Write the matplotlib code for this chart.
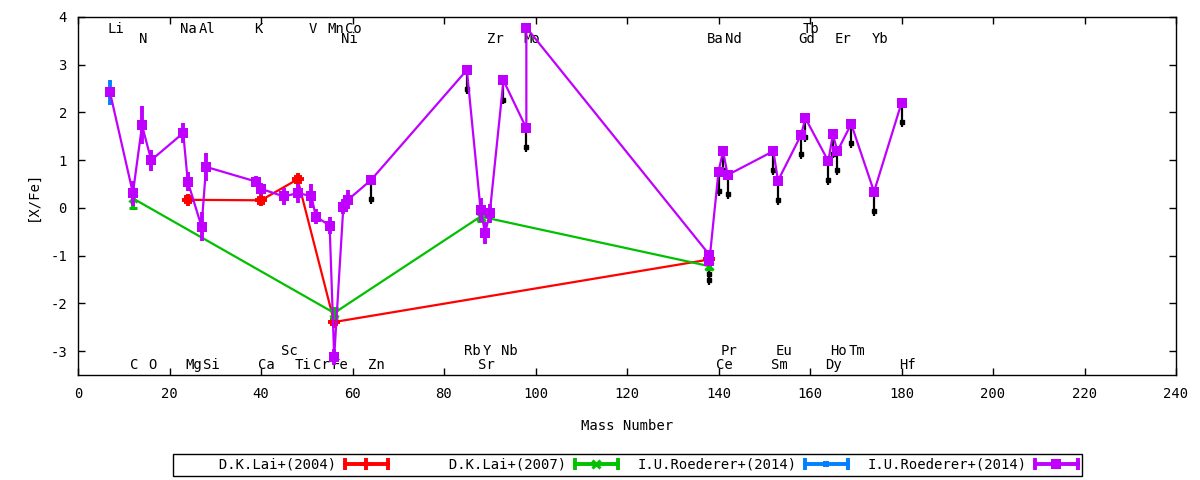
import numpy as np
import matplotlib
matplotlib.use("Agg")
import matplotlib.pyplot as plt
from matplotlib.lines import Line2D
from matplotlib.legend_handler import HandlerLine2D

plt.rcParams['font.family'] = ['DejaVu Sans Mono']
plt.rcParams['font.size'] = 10
plt.rcParams['axes.unicode_minus'] = False

#%% data

# I.U.Roederer+(2014), all elements (purple)
r14_mass = [7, 12, 14, 16, 23, 24, 27, 28, 39, 40, 45, 48, 51, 52, 55, 56, 58, 59, 64,
            85, 88, 89, 90, 93, 98, 98,
            138, 138, 140, 141, 142, 152, 153, 158, 159, 164, 165, 166, 169, 174, 180]
r14_val = [2.42, 0.31, 1.73, 1.00, 1.57, 0.55, -0.39, 0.86, 0.55, 0.40, 0.24, 0.31, 0.25, -0.18, -0.37, -3.12, 0.03, 0.17, 0.58,
           2.89, -0.04, -0.53, -0.11, 2.67, 1.67, 3.78,
           -0.98, -1.12, 0.76, 1.19, 0.69, 1.19, 0.57, 1.52, 1.88, 0.98, 1.54, 1.19, 1.76, 0.34, 2.20]
r14_err = [0.0, 0.26, 0.40, 0.22, 0.20, 0.20, 0.30, 0.30, 0.12, 0.12, 0.17, 0.20, 0.25, 0.15, 0.17, 0.17, 0.15, 0.20, 0.0,
           0.0, 0.25, 0.23, 0.20, 0.0, 0.0, 0.0,
           0.0, 0.0, 0.0, 0.0, 0.0, 0.0, 0.0, 0.0, 0.0, 0.0, 0.0, 0.0, 0.0, 0.0, 0.0]
# 1 = upper limit (black arrow)
r14_ul = [0, 0, 0, 0, 0, 0, 0, 0, 0, 0, 0, 0, 0, 0, 0, 0, 0, 0, 1,
          1, 0, 0, 0, 1, 1, 0,
          1, 1, 1, 1, 1, 1, 1, 1, 1, 1, 1, 1, 1, 1, 1]

# I.U.Roederer+(2014), Li (blue)
r14li_mass = [7]
r14li_val = [2.42]
r14li_err = [0.26]

# D.K.Lai+(2004) (red)
lai04_mass = [24, 40, 48, 56, 138]
lai04_val = [0.17, 0.16, 0.60, -2.39, -1.08]
lai04_err = [0.05, 0.05, 0.05, 0.05, 0.05]

# D.K.Lai+(2007) (green)
lai07_mass = [12, 56, 88, 138]
lai07_val = [0.20, -2.20, -0.18, -1.22]
lai07_err = [0.20, 0.10, 0.10, 0.06]

# element labels: name, mass number, row (t1/t2 top, b1/b2 bottom)
lab_name = ["Li", "C", "N", "O", "Na", "Mg", "Al", "Si", "K", "Ca", "Sc", "Ti", "V", "Cr",
            "Mn", "Fe", "Co", "Ni", "Zn", "Rb", "Sr", "Y", "Zr", "Nb", "Mo",
            "Ba", "Ce", "Pr", "Nd", "Sm", "Eu", "Gd", "Tb", "Dy", "Ho", "Er", "Tm", "Yb", "Hf"]
lab_mass = [7, 12, 14, 16, 23, 24, 27, 28, 39, 40, 45, 48, 51, 52,
            55, 56, 59, 58, 64, 85, 88, 89, 90, 93, 98,
            138, 140, 141, 142, 152, 153, 158, 159, 164, 165, 166, 169, 174, 180]
lab_row = ["t1", "b2", "t2", "b2", "t1", "b2", "t1", "b2", "t1", "b2", "b1", "b2", "t1", "b2",
           "t1", "b2", "t1", "t2", "b2", "b1", "b2", "b1", "t2", "b1", "t2",
           "t2", "b2", "b1", "t2", "b2", "b1", "t2", "t1", "b2", "b1", "t2", "b1", "t2", "b2"]
row_y = {"t1": 3.66, "t2": 3.45, "b1": -3.08, "b2": -3.37}

ARROW_LEN = 0.5

#%% plot

fig = plt.figure(figsize=(12, 4.8), dpi=100)
ax = fig.add_axes([78/1200, 1-375/480, (1176-78)/1200, (375-17)/480])

for name, m, row in zip(lab_name, lab_mass, lab_row):
    ax.text(m - 0.6, row_y[row], name, ha="left", va="baseline", zorder=1)

series = [
    ("D.K.Lai+(2004)", lai04_mass, lai04_val, lai04_err, "#ff0000", "+", 9, 2.8),
    ("D.K.Lai+(2007)", lai07_mass, lai07_val, lai07_err, "#00c000", "x", 6, 2.2),
    ("I.U.Roederer+(2014)", r14li_mass, r14li_val, r14li_err, "#0080ff", "s", 5, 0.0),
    ("I.U.Roederer+(2014)", r14_mass, r14_val, r14_err, "#c000ff", "s", 7.5, 0.0),
]

# upper limits
ul = np.array(r14_ul) == 1
ulx = np.array(r14_mass)[ul]
uly = np.array(r14_val)[ul]
ax.vlines(ulx, uly - ARROW_LEN, uly, color="black", lw=1.6, zorder=2)
ax.plot(ulx, uly - 0.8*ARROW_LEN, ls="none", marker="s", ms=3.5, color="black", zorder=2)

handles = []
hmap = {}
for i, (lab, x, y, e, c, mk, ms, mew) in enumerate(series):
    ax.errorbar(x, y, yerr=e, color=c, lw=1.6, elinewidth=2.8, capsize=3, capthick=2.6,
                marker=mk, ms=ms, mew=mew, zorder=3 + i)
    capline = Line2D([], [], color=c, lw=2.8, marker="|", ms=9, mew=2.8)
    ctr = Line2D([], [], ls="none", color=c, marker=mk, ms=ms, mew=mew)
    hmap[capline] = HandlerLine2D(numpoints=2, marker_pad=0)
    handles.append((capline, ctr))

labels = [s[0].rjust(19) for s in series]
leg = fig.legend(handles, labels, handler_map=hmap, ncol=4, loc="center",
                 bbox_to_anchor=(627.5/1200, 1-465/480), bbox_transform=fig.transFigure,
                 markerfirst=False, handlelength=3.1, handletextpad=0.6, columnspacing=1.4,
                 borderpad=0.3, fancybox=False, framealpha=1, edgecolor="black")
leg.get_frame().set_linewidth(1.0)

ax.set_xlim(0, 240)
ax.set_ylim(-3.5, 4)
ax.set_xticks(np.arange(0, 241, 20))
ax.set_yticks(np.arange(-3, 5, 1))
ax.tick_params(direction="in", top=True, right=True, length=5, width=1)
ax.tick_params(axis="x", pad=9)
ax.tick_params(axis="y", pad=8)
for s in ax.spines.values():
    s.set_linewidth(1)

ax.set_xlabel("Mass Number")
ax.set_ylabel("[X/Fe]")
ax.xaxis.set_label_coords(0.5, -0.123)
ax.yaxis.set_label_coords(-0.035, 0.5)

fig.savefig("out.png", dpi=100)
